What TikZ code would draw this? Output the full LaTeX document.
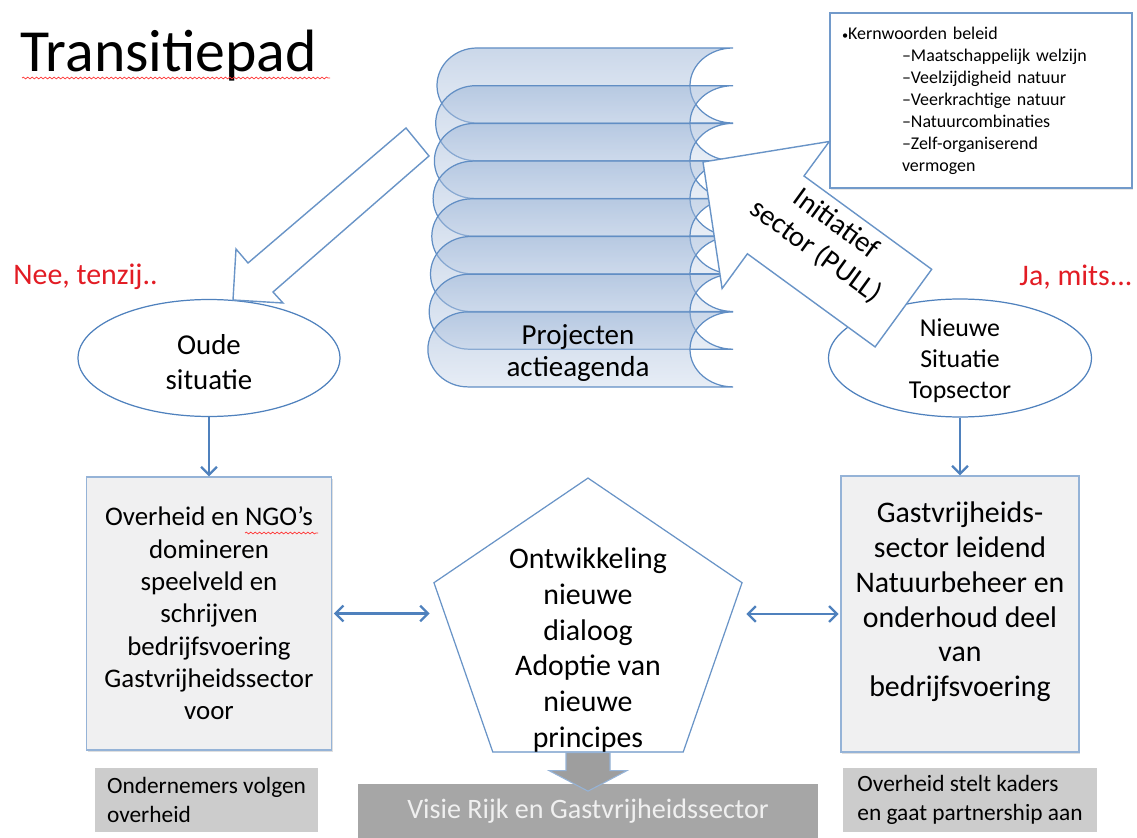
\documentclass[tikz,border=0pt]{standalone}
\usepackage{fontspec}
\setmainfont{Carlito}
\usetikzlibrary{shapes.geometric,arrows.meta,shadows,decorations.pathmorphing,calc}

\definecolor{lijnblauw}{RGB}{79,129,189}
\definecolor{randblauw}{RGB}{149,179,215}
\definecolor{bladboven}{RGB}{150,176,212}
\definecolor{bladonder}{RGB}{208,220,237}
\definecolor{kaderrood}{RGB}{226,28,36}
\definecolor{lichtgrijs}{RGB}{240,240,241}
\definecolor{middengrijs}{RGB}{204,204,204}
\definecolor{donkergrijs}{RGB}{166,166,166}

\newcommand{\fs}[2]{\fontsize{#1}{#2}\selectfont}

\begin{document}
\begin{tikzpicture}[x=0.02cm,y=-0.02cm]
	\tikzstyle{blad}=[draw=lijnblauw!90,line width=0.7pt,top color=bladboven,bottom color=bladonder,fill opacity=0.5]
	\tikzstyle{blokpijl}=[draw=lijnblauw!85,fill=white,line width=0.8pt]
	\tikzstyle{situatie}=[ellipse,draw=lijnblauw,fill=white,line width=0.7pt,inner sep=0pt]
	\tikzstyle{grijsvak}=[rectangle,draw=randblauw,fill=lichtgrijs,line width=0.8pt,align=center,
		drop shadow={shadow xshift=0.8pt,shadow yshift=-1.2pt,opacity=0.25}]
	\tikzstyle{onderschrift}=[rectangle,fill=middengrijs,align=left,font=\fs{13.3}{16.4},minimum height=1.28cm]
	\tikzstyle{verbinding}=[draw=lijnblauw,line width=1.3pt,-{Straight Barb[length=4.5pt,width=9pt]}]
	\tikzstyle{tweezijdig}=[draw=lijnblauw,line width=1.3pt,{Straight Barb[length=4.5pt,width=9pt]}-{Straight Barb[length=4.5pt,width=9pt]}]
	\tikzstyle{rood}=[text=kaderrood,font=\fs{17}{20}]
	\tikzstyle{kronkel}=[draw=red!80,line width=0.4pt,decorate,decoration={snake,amplitude=0.5pt,segment length=2.5pt}]

	\useasboundingbox (0,0) rectangle (1137,838);

	% titel
	\node[anchor=base west,inner sep=0pt,font=\fs{34}{40}] (titel) at (20,72) {Transitiepad};
	\draw[kronkel] (22,78) -- (330,78);

	% oude en nieuwe situatie
	\node[situatie,minimum width=5.24cm,minimum height=2.34cm] (oud) at (209,358) {};
	\node[align=center,font=\fs{16.4}{19.8}] (oudtekst) at (209,362) {Oude\\situatie};
	\node[situatie,minimum width=5.26cm,minimum height=2.36cm] (nieuw) at (960,358) {};
	\node[align=center,font=\fs{14.7}{17.6}] (nieuwtekst) at (960,361) {Nieuwe\\Situatie\\Topsector};
	\node[rood] (nee) at (85.5,277) {Nee, tenzij..};
	\node[rood] (ja) at (1076,277) {Ja, mits...};

	% stapel projecten
	\foreach \i in {0,...,7}{
		\pgfmathsetmacro{\yb}{48+37.7*\i}
		\pgfmathsetmacro{\ym}{\yb+37.5}
		\pgfmathsetmacro{\yo}{\yb+75}
		\pgfmathsetmacro{\xl}{437-1.3*\i}
		\draw[blad] (\xl+40,\yb) -- (733,\yb)
			.. controls (709.3,\yb) and (690,\ym-20.7) .. (690,\ym)
			.. controls (690,\ym+20.7) and (709.3,\yo) .. (733,\yo)
			-- (\xl+40,\yo)
			.. controls (\xl+17.9,\yo) and (\xl,\ym+20.7) .. (\xl,\ym)
			.. controls (\xl,\ym-20.7) and (\xl+17.9,\yb) .. cycle;
	}
	\node[align=center,font=\fs{16.5}{18.7}] (projecten) at (578,353) {Projecten\\actieagenda};

	% pijl naar oude situatie
	\draw[blokpijl] (233,300) -- (236,249) -- (248,263) -- (406,128) -- (429,156) -- (273,292) -- (283,303) -- cycle;

	% kernwoorden
	\node[rectangle,draw=lijnblauw!80,fill=white,line width=0.7pt,minimum width=6.04cm,minimum height=3.5cm,
		text width=5.56cm,inner xsep=0.24cm,align=left,font=\fs{10.2}{12.5},
		drop shadow={shadow xshift=0.8pt,shadow yshift=-1pt,opacity=0.2}] (kern) at (981,100.5)
		{{\fs{7}{12.5}\textbullet}Kernwoorden beleid\\
		\hspace*{1.2cm}–Maatschappelijk welzijn\\
		\hspace*{1.2cm}–Veelzijdigheid natuur\\
		\hspace*{1.2cm}–Veerkrachtige natuur\\
		\hspace*{1.2cm}–Natuurcombinaties\\
		\hspace*{1.2cm}–Zelf-organiserend\\
		\hspace*{1.2cm}vermogen};

	% initiatief van de sector
	\draw[blokpijl] (703,162) -- (829.3,141.5) -- (804,176) -- (931.7,269.3) -- (875.1,346.9) -- (747.4,253.8) -- (722.1,288.5) -- cycle;
	\node[rotate=-36,align=center,font=\fs{16.5}{19.5}] (pull) at (826,238) {Initiatief\\sector (PULL)};

	% vakken
	\node[grijsvak,minimum width=4.9cm,minimum height=5.46cm,font=\fs{15.3}{18.4}] (overheid) at (209,613.5)
		{Overheid en NGO’s\\domineren\\speelveld en\\schrijven\\bedrijfsvoering\\Gastvrijheidssector\\voor};
	\draw[kronkel] (245,533) -- (318,533);
	\node[grijsvak,minimum width=4.76cm,minimum height=5.52cm] (gastvrij) at (960,614) {};
	\node[align=center,font=\fs{17}{19.8}] (gastvrijtekst) at (960,602)
		{Gastvrijheids-\\sector leidend\\Natuurbeheer en\\onderhoud deel\\van\\bedrijfsvoering};

	\node[regular polygon,regular polygon sides=5,draw=lijnblauw!85,fill=white,line width=0.7pt,
		minimum size=6.48cm,yscale=0.935,transform shape] (dialoog) at (588,629.5) {};
	\node[align=center,font=\fs{17}{20.4}] (dialoogtekst) at (588,650)
		{Ontwikkeling\\nieuwe\\dialoog\\Adoptie van\\nieuwe\\principes};

	\draw[verbinding] (oud) -- (overheid);
	\draw[verbinding] (nieuw) -- (gastvrij);
	\draw[tweezijdig,shorten <=1pt,shorten >=2pt] (overheid.east) -- (overheid.east -| dialoog.corner 2);
	\draw[tweezijdig,shorten <=2pt,shorten >=1pt] (dialoog.corner 5 |- gastvrij.west) -- (gastvrij.west);

	% onderschriften
	\node[onderschrift,minimum width=4.46cm] (ondernemers) at (206.5,800) {Ondernemers volgen\\overheid};
	\node[onderschrift,minimum width=5.08cm] (kaders) at (970,800) {Overheid stelt kaders\\en gaat partnership aan};
	\node[rectangle,fill=donkergrijs,minimum width=9.2cm,minimum height=1.1cm,text=white!94!black,
		font=\fs{16}{19}] (visie) at (588,811) {Visie Rijk en Gastvrijheidssector};
	\draw[draw=randblauw,fill=donkergrijs!95!black,line width=0.6pt]
		($(dialoog.south)+(-22,0)$) -- ($(dialoog.south)+(22,0)$) -- ($(dialoog.south)+(22,18)$)
		-- ($(dialoog.south)+(39,18)$) -- ($(visie.north)+(0,8)$) -- ($(dialoog.south)+(-39,18)$)
		-- ($(dialoog.south)+(-22,18)$) -- cycle;
\end{tikzpicture}
\end{document}
